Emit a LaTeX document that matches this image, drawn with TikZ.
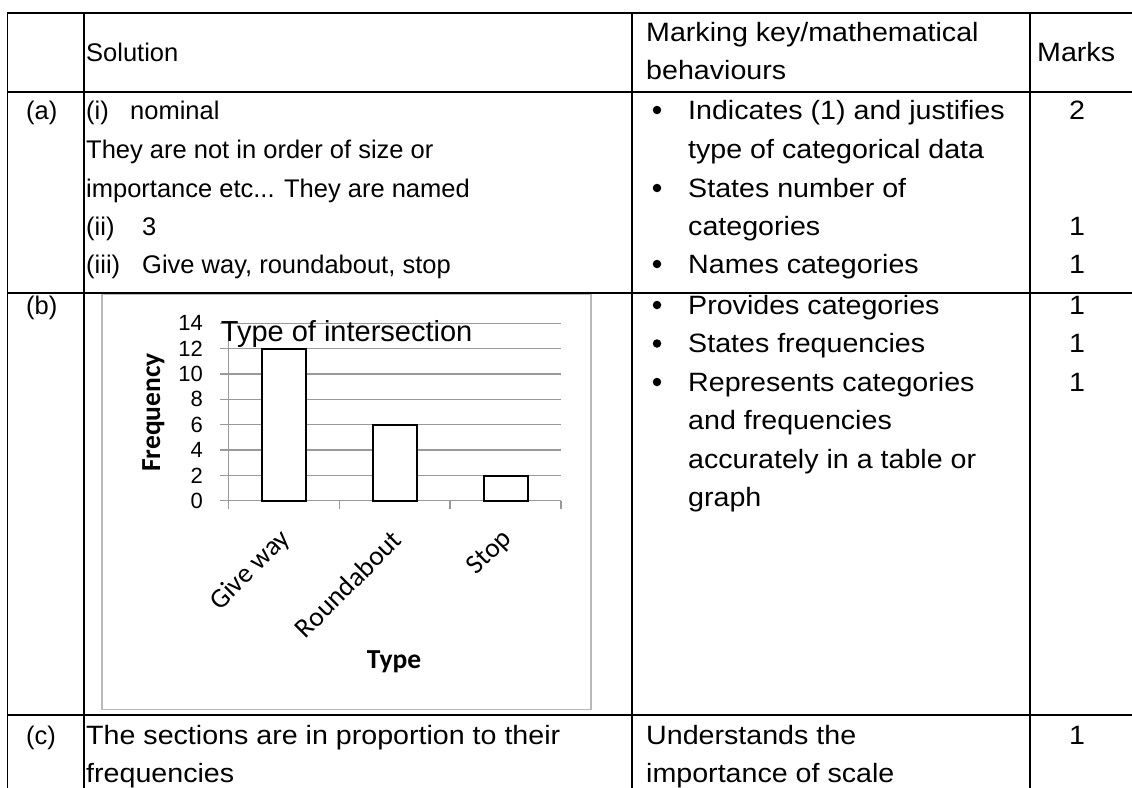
\documentclass[tikz,border=0pt]{standalone}
\usepackage{fontspec}
\setmainfont{Liberation Sans}
\newfontfamily\wide[FakeStretch=1.08]{Liberation Sans}
\newfontfamily\calib{Carlito}
\begin{document}
\begin{tikzpicture}[x=1pt,y=-1pt,
  rule/.style={line width=1.7pt, black, line cap=rect},
  txt/.style={anchor=base west, inner sep=0pt, font=\fontsize{25.5}{30}\selectfont},
  wtxt/.style={anchor=base west, inner sep=0pt, font=\wide\fontsize{26.5}{30}\selectfont},
  ctxt/.style={anchor=base, inner sep=0pt, font=\wide\fontsize{26.5}{30}\selectfont},
  bul/.style={circle, fill=black, inner sep=0pt, minimum size=8.5pt},
  gridln/.style={line width=1.3pt, gray!80},
  bar/.style={draw=black, line width=2pt, fill=white},
  ytick/.style={anchor=east, inner sep=0pt, font=\fontsize{22}{22}\selectfont},
  cat/.style={anchor=east, rotate=45, inner sep=0pt, font=\calib\fontsize{27.5}{28}\selectfont},
  axtitle/.style={inner sep=0pt, font=\calib\bfseries\fontsize{27.5}{28}\selectfont},
  ]
\useasboundingbox (0,0) rectangle (1132,787);
\begin{scope}
\clip (0,0) rectangle (1132,787);
% ---- table rules ----
\draw[rule] (7.5,13) -- (1140,13);
\draw[rule] (7.5,92) -- (1140,92);
\draw[rule] (7.5,293) -- (1140,293);
\draw[rule] (7.5,715) -- (1140,715);
\draw[rule] (7.5,13) -- (7.5,800);
\draw[rule] (84,13) -- (84,800);
\draw[rule] (632,13) -- (632,800);
\draw[rule] (1030,13) -- (1030,800);

% ---- header ----
\node[txt] (hsol) at (86,61) {Solution};
\node[wtxt] (hmk1) at (646,41) {Marking key/mathematical};
\node[wtxt] (hmk2) at (646,79) {behaviours};
\node[wtxt] (hmarks) at (1037,61) {Marks};

% ---- row (a) ----
\node[txt] (la) at (26,119) {(a)};
\node[txt] (ai) at (86,119) {(i)};
\node[txt] (ainom) at (130,119) {nominal};
\node[txt] (a2) at (86,158) {They are not in order of size or};
\node[txt] (a3) at (86,197) {importance etc... They are named};
\node[txt] (aii) at (86,235) {(ii)};
\node[txt] (aiiv) at (142,235) {3};
\node[txt] (aiii) at (86,273) {(iii)};
\node[txt] (aiiiv) at (142,273) {Give way, roundabout, stop};

\node[bul] (ba1) at (657,110) {};
\node[bul] (ba2) at (657,188) {};
\node[bul] (ba3) at (657,264) {};
\node[wtxt] (ka1) at (688,119) {Indicates (1) and justifies};
\node[wtxt] (ka2) at (688,158) {type of categorical data};
\node[wtxt] (ka3) at (688,197) {States number of};
\node[wtxt] (ka4) at (688,235) {categories};
\node[wtxt] (ka5) at (688,273) {Names categories};

\node[ctxt] (ma1) at (1077,119) {2};
\node[ctxt] (ma2) at (1077,235) {1};
\node[ctxt] (ma3) at (1077,273) {1};

% ---- row (b) ----
\node[txt] (lb) at (26,314) {(b)};
\node[bul] (bb1) at (657,305) {};
\node[bul] (bb2) at (657,343.5) {};
\node[bul] (bb3) at (657,382) {};
\node[wtxt] (kb1) at (688,314) {Provides categories};
\node[wtxt] (kb2) at (688,352.5) {States frequencies};
\node[wtxt] (kb3) at (688,391) {Represents categories};
\node[wtxt] (kb4) at (688,429.5) {and frequencies};
\node[wtxt] (kb5) at (688,468) {accurately in a table or};
\node[wtxt] (kb6) at (688,506.5) {graph};
\node[ctxt] (mb1) at (1077,314) {1};
\node[ctxt] (mb2) at (1077,352.5) {1};
\node[ctxt] (mb3) at (1077,391) {1};

% ---- chart ----
\draw[gray!55, line width=1.5pt] (102,294.5) rectangle (591,709.5);
\foreach \v in {2,4,...,14} {
  \draw[gridln] (220,{500.7-\v*12.67}) -- (561,{500.7-\v*12.67});
}
\foreach \v in {0,2,...,14} {
  \node[ytick] (yt\v) at (203,{500.7-\v*12.67}) {\v};
}
\draw[gridln] (220,500.7) -- (561,500.7);
\draw[gridln] (228.3,323.3) -- (228.3,509.3);
\foreach \xx in {339.3,450,561} {
  \draw[gridln] (\xx,500.7) -- (\xx,509.3);
}
\draw[bar] (261.7,500.7) rectangle (306,349);
\draw[bar] (372.7,500.7) rectangle (416.7,425);
\draw[bar] (484,500.7) rectangle (528.3,475.7);
\node[anchor=base west, inner sep=0pt, font=\fontsize{29}{30}\selectfont] (ctitle) at (220.7,341.7) {Type of intersection};
\node[axtitle, rotate=90] (yttl) at (153.3,412.5) {Frequency};
\node[axtitle, anchor=base] (xttl) at (394,668) {Type};
\node[cat] (c1) at (286,535) {Give way};
\node[cat] (c2) at (397,535) {Roundabout};
\node[cat] (c3) at (508,535) {Stop};

% ---- row (c) ----
\node[txt] (lc) at (26,744) {(c)};
\node[wtxt] (c1a) at (86,744) {The sections are in proportion to their};
\node[wtxt] (c1b) at (86,782) {frequencies};
\node[wtxt] (kc1) at (646,744) {Understands the};
\node[wtxt] (kc2) at (646,782) {importance of scale};
\node[ctxt] (mc1) at (1077,744) {1};
\end{scope}
\end{tikzpicture}
\end{document}
